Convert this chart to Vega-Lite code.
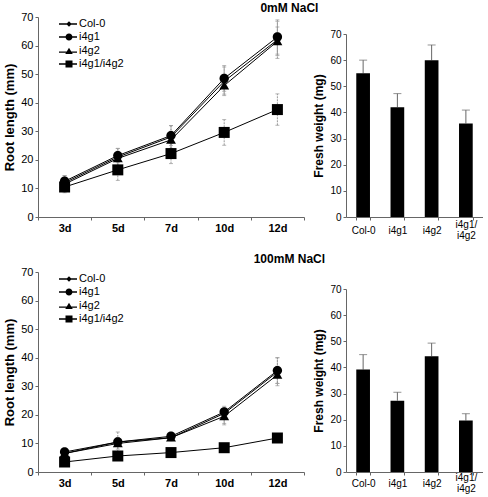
{
  "$schema": "https://vega.github.io/schema/vega-lite/v6.json",
  "padding": {"left": 3, "top": 2, "right": 0, "bottom": 0},
  "config": {
    "font": "Liberation Sans",
    "view": {"stroke": null},
    "axis": {"grid": false, "domainColor": "#666", "tickColor": "#666", "labelColor": "#000", "titleColor": "#000", "titleFontWeight": "bold", "tickSize": 3},
    "title": {"font": "Liberation Sans", "fontSize": 12, "fontWeight": "bold", "color": "#000"},
    "legend": {"labelColor": "black"}
  },
  "datasets": {
    "root0": [
      {"day": "3d", "series": "Col-0", "v": 12, "lo": 9.5, "hi": 14.5},
      {"day": "5d", "series": "Col-0", "v": 21, "lo": 18, "hi": 24},
      {"day": "7d", "series": "Col-0", "v": 28, "lo": 24, "hi": 32},
      {"day": "10d", "series": "Col-0", "v": 47.5, "lo": 42.5, "hi": 52.5},
      {"day": "12d", "series": "Col-0", "v": 62, "lo": 55.5, "hi": 68.5},
      {"day": "3d", "series": "i4g1", "v": 12.5, "lo": 10.5, "hi": 14.5},
      {"day": "5d", "series": "i4g1", "v": 21.5, "lo": 19, "hi": 24},
      {"day": "7d", "series": "i4g1", "v": 28.5, "lo": 25, "hi": 32},
      {"day": "10d", "series": "i4g1", "v": 48.5, "lo": 44, "hi": 53},
      {"day": "12d", "series": "i4g1", "v": 63, "lo": 57, "hi": 69},
      {"day": "3d", "series": "i4g2", "v": 11.5, "lo": 9.5, "hi": 13.5},
      {"day": "5d", "series": "i4g2", "v": 20.5, "lo": 18, "hi": 23},
      {"day": "7d", "series": "i4g2", "v": 27, "lo": 24, "hi": 30},
      {"day": "10d", "series": "i4g2", "v": 46, "lo": 43, "hi": 49},
      {"day": "12d", "series": "i4g2", "v": 61.5, "lo": 56.5, "hi": 66.5},
      {"day": "3d", "series": "i4g1/i4g2", "v": 10.5, "lo": 8.5, "hi": 12.5},
      {"day": "5d", "series": "i4g1/i4g2", "v": 16.5, "lo": 12.8, "hi": 20.2},
      {"day": "7d", "series": "i4g1/i4g2", "v": 22.2, "lo": 18.7, "hi": 25.7},
      {"day": "10d", "series": "i4g1/i4g2", "v": 29.6, "lo": 25.1, "hi": 34.1},
      {"day": "12d", "series": "i4g1/i4g2", "v": 37.6, "lo": 32.1, "hi": 43.1}
    ],
    "root100": [
      {"day": "3d", "series": "Col-0", "v": 6.5, "lo": 5.5, "hi": 7.5},
      {"day": "5d", "series": "Col-0", "v": 10.5, "lo": 7, "hi": 14},
      {"day": "7d", "series": "Col-0", "v": 12, "lo": 11, "hi": 13},
      {"day": "10d", "series": "Col-0", "v": 20.5, "lo": 17, "hi": 22},
      {"day": "12d", "series": "Col-0", "v": 35, "lo": 30.2, "hi": 40},
      {"day": "3d", "series": "i4g1", "v": 7, "lo": 6, "hi": 8},
      {"day": "5d", "series": "i4g1", "v": 10.5, "lo": 9, "hi": 12},
      {"day": "7d", "series": "i4g1", "v": 12.5, "lo": 11.5, "hi": 13.5},
      {"day": "10d", "series": "i4g1", "v": 21, "lo": 19, "hi": 23},
      {"day": "12d", "series": "i4g1", "v": 35.5, "lo": 31, "hi": 40},
      {"day": "3d", "series": "i4g2", "v": 6.5, "lo": 5.5, "hi": 7.5},
      {"day": "5d", "series": "i4g2", "v": 10, "lo": 8, "hi": 12},
      {"day": "7d", "series": "i4g2", "v": 12, "lo": 11, "hi": 13},
      {"day": "10d", "series": "i4g2", "v": 19.5, "lo": 16.5, "hi": 21.5},
      {"day": "12d", "series": "i4g2", "v": 34, "lo": 31, "hi": 37},
      {"day": "3d", "series": "i4g1/i4g2", "v": 3.5, "lo": 3, "hi": 4},
      {"day": "5d", "series": "i4g1/i4g2", "v": 5.6, "lo": 5, "hi": 6.2},
      {"day": "7d", "series": "i4g1/i4g2", "v": 6.8, "lo": 6.2, "hi": 7.4},
      {"day": "10d", "series": "i4g1/i4g2", "v": 8.5, "lo": 7.8, "hi": 9.2},
      {"day": "12d", "series": "i4g1/i4g2", "v": 11.9, "lo": 11, "hi": 12.8}
    ],
    "fw0": [
      {"g": "Col-0", "v": 55, "hi": 60},
      {"g": "i4g1", "v": 42, "hi": 47.2},
      {"g": "i4g2", "v": 60, "hi": 65.8},
      {"g": "i4g1/i4g2", "v": 35.8, "hi": 40.9}
    ],
    "fw100": [
      {"g": "Col-0", "v": 39.2, "hi": 44.9},
      {"g": "i4g1", "v": 27.3, "hi": 30.5},
      {"g": "i4g2", "v": 44.3, "hi": 49.3},
      {"g": "i4g1/i4g2", "v": 19.7, "hi": 22.3}
    ],
    "empty": []
  },
  "spacing": 12,
  "vconcat": [
    {
      "title": {"text": "0mM NaCl", "anchor": "middle", "dx": 46, "offset": -4},
      "spacing": 7,
      "hconcat": [
        {
          "width": 266, "height": 200,
          "data": {"name": "root0"},
          "encoding": {
            "x": {"field": "day", "type": "ordinal", "sort": ["3d", "5d", "7d", "10d", "12d"], "scale": {"type": "band", "paddingInner": 0, "paddingOuter": 0},
              "axis": {"title": null, "labelAngle": 0, "tickBand": "extent", "labelFontWeight": "bold", "labelFontSize": 11, "labelPadding": 2}},
            "y": {"type": "quantitative", "scale": {"domain": [0, 70]},
              "axis": {"title": "Root length (mm)", "values": [0, 10, 20, 30, 40, 50, 60, 70], "labelFontSize": 11, "titleFontSize": 13, "titlePadding": 4}}
          },
          "layer": [
            {"mark": {"type": "rule", "color": "#999", "strokeWidth": 1, "strokeDash": [2, 1]}, "encoding": {"y": {"field": "lo", "type": "quantitative"}, "y2": {"field": "hi"}}},
            {"mark": {"type": "tick", "color": "#999", "size": 4, "thickness": 1}, "encoding": {"y": {"field": "hi", "type": "quantitative"}}},
            {"mark": {"type": "tick", "color": "#999", "size": 4, "thickness": 1}, "encoding": {"y": {"field": "lo", "type": "quantitative"}}},
            {"mark": {"type": "line", "color": "black", "strokeWidth": 1}, "encoding": {"y": {"field": "v", "type": "quantitative"}, "detail": {"field": "series"}}},
            {"mark": {"type": "point", "filled": true, "color": "black", "opacity": 1, "size": 121},
              "encoding": {
                "y": {"field": "v", "type": "quantitative"},
                "shape": {"field": "series", "type": "nominal", "scale": {"domain": ["Col-0", "i4g1", "i4g2", "i4g1/i4g2"], "range": ["M0,-0.65L0.65,0L0,0.65L-0.65,0Z", "M-0.85,0A0.85,0.85,0,1,1,0.85,0A0.85,0.85,0,1,1,-0.85,0Z", "M0,-0.85L0.9,0.7L-0.9,0.7Z", "M-1,-1H1V1H-1Z"]}, "legend": null}
              }},
            {"transform": [{"filter": "datum.v < 0"}],
              "mark": {"type": "point", "filled": true, "color": "black", "opacity": 1, "size": 100},
              "encoding": {
                "y": {"field": "v", "type": "quantitative"},
                "shape": {"field": "series", "type": "nominal", "scale": {"domain": ["Col-0", "i4g1", "i4g2", "i4g1/i4g2"], "range": ["M-2,-0.13H1.6V0.13H-2ZM0,-0.55L0.55,0L0,0.55L-0.55,0Z", "M-2,-0.13H1.6V0.13H-2ZM-0.7,0A0.7,0.7,0,1,1,0.7,0A0.7,0.7,0,1,1,-0.7,0Z", "M-2,0.1H1.6V0.36H-2ZM0,-0.65L0.75,0.6L-0.75,0.6Z", "M-2,-0.13H1.6V0.13H-2ZM-0.7,-0.7H0.7V0.7H-0.7Z"]},
                  "legend": {"orient": "none", "legendX": 25, "legendY": 1, "title": null, "padding": 0, "labelFontSize": 11, "symbolSize": 100, "labelOffset": 4, "rowPadding": 0}}
              }}
          ],
          "resolve": {"scale": {"shape": "independent"}, "legend": {"shape": "independent"}}
        },
        {
          "spacing": 5,
          "vconcat": [
            {"width": 137, "height": 7, "data": {"name": "empty"}, "mark": "point"},
            {
              "width": 137, "height": 183,
              "data": {"name": "fw0"},
              "encoding": {
                "x": {"field": "g", "type": "nominal", "sort": ["Col-0", "i4g1", "i4g2", "i4g1/i4g2"], "scale": {"paddingInner": 0.6, "paddingOuter": 0.3},
                  "axis": {"title": null, "labelAngle": 0, "tickBand": "extent", "labelFontSize": 10, "labelPadding": {"condition": {"test": "datum.value == 'i4g1/i4g2'", "value": 4.5}, "value": 10}, "labelBaseline": "middle", "labelLineHeight": 11, "labelExpr": "datum.value == 'i4g1/i4g2' ? ['i4g1/', 'i4g2'] : datum.label"}},
                "y": {"type": "quantitative", "scale": {"domain": [0, 70]},
                  "axis": {"title": "Fresh weight (mg)", "values": [0, 10, 20, 30, 40, 50, 60, 70], "labelFontSize": 10, "titleFontSize": 12, "titlePadding": 4}}
              },
              "layer": [
                {"mark": {"type": "rule", "color": "#666", "strokeWidth": 1}, "encoding": {"y": {"field": "v", "type": "quantitative"}, "y2": {"field": "hi"}}},
                {"mark": {"type": "tick", "color": "#666", "size": 8, "thickness": 1}, "encoding": {"y": {"field": "hi", "type": "quantitative"}}},
                {"mark": {"type": "bar", "color": "black"}, "encoding": {"y": {"field": "v", "type": "quantitative"}}}
              ]
            }
          ]
        }
      ]
    },
    {
      "title": {"text": "100mM NaCl", "anchor": "middle", "dx": 46, "offset": 0},
      "spacing": 7,
      "hconcat": [
        {
          "width": 266, "height": 200,
          "data": {"name": "root100"},
          "encoding": {
            "x": {"field": "day", "type": "ordinal", "sort": ["3d", "5d", "7d", "10d", "12d"], "scale": {"type": "band", "paddingInner": 0, "paddingOuter": 0},
              "axis": {"title": null, "labelAngle": 0, "tickBand": "extent", "labelFontWeight": "bold", "labelFontSize": 11, "labelPadding": 2}},
            "y": {"type": "quantitative", "scale": {"domain": [0, 70]},
              "axis": {"title": "Root length (mm)", "values": [0, 10, 20, 30, 40, 50, 60, 70], "labelFontSize": 11, "titleFontSize": 13, "titlePadding": 4}}
          },
          "layer": [
            {"mark": {"type": "rule", "color": "#999", "strokeWidth": 1, "strokeDash": [2, 1]}, "encoding": {"y": {"field": "lo", "type": "quantitative"}, "y2": {"field": "hi"}}},
            {"mark": {"type": "tick", "color": "#999", "size": 4, "thickness": 1}, "encoding": {"y": {"field": "hi", "type": "quantitative"}}},
            {"mark": {"type": "tick", "color": "#999", "size": 4, "thickness": 1}, "encoding": {"y": {"field": "lo", "type": "quantitative"}}},
            {"mark": {"type": "line", "color": "black", "strokeWidth": 1}, "encoding": {"y": {"field": "v", "type": "quantitative"}, "detail": {"field": "series"}}},
            {"mark": {"type": "point", "filled": true, "color": "black", "opacity": 1, "size": 121},
              "encoding": {
                "y": {"field": "v", "type": "quantitative"},
                "shape": {"field": "series", "type": "nominal", "scale": {"domain": ["Col-0", "i4g1", "i4g2", "i4g1/i4g2"], "range": ["M0,-0.65L0.65,0L0,0.65L-0.65,0Z", "M-0.85,0A0.85,0.85,0,1,1,0.85,0A0.85,0.85,0,1,1,-0.85,0Z", "M0,-0.85L0.9,0.7L-0.9,0.7Z", "M-1,-1H1V1H-1Z"]}, "legend": null}
              }},
            {"transform": [{"filter": "datum.v < 0"}],
              "mark": {"type": "point", "filled": true, "color": "black", "opacity": 1, "size": 100},
              "encoding": {
                "y": {"field": "v", "type": "quantitative"},
                "shape": {"field": "series", "type": "nominal", "scale": {"domain": ["Col-0", "i4g1", "i4g2", "i4g1/i4g2"], "range": ["M-2,-0.13H1.6V0.13H-2ZM0,-0.55L0.55,0L0,0.55L-0.55,0Z", "M-2,-0.13H1.6V0.13H-2ZM-0.7,0A0.7,0.7,0,1,1,0.7,0A0.7,0.7,0,1,1,-0.7,0Z", "M-2,0.1H1.6V0.36H-2ZM0,-0.65L0.75,0.6L-0.75,0.6Z", "M-2,-0.13H1.6V0.13H-2ZM-0.7,-0.7H0.7V0.7H-0.7Z"]},
                  "legend": {"orient": "none", "legendX": 25, "legendY": 1, "title": null, "padding": 0, "labelFontSize": 11, "symbolSize": 100, "labelOffset": 4, "rowPadding": 0}}
              }}
          ],
          "resolve": {"scale": {"shape": "independent"}, "legend": {"shape": "independent"}}
        },
        {
          "spacing": 5,
          "vconcat": [
            {"width": 137, "height": 7, "data": {"name": "empty"}, "mark": "point"},
            {
              "width": 137, "height": 183,
              "data": {"name": "fw100"},
              "encoding": {
                "x": {"field": "g", "type": "nominal", "sort": ["Col-0", "i4g1", "i4g2", "i4g1/i4g2"], "scale": {"paddingInner": 0.6, "paddingOuter": 0.3},
                  "axis": {"title": null, "labelAngle": 0, "tickBand": "extent", "labelFontSize": 10, "labelPadding": {"condition": {"test": "datum.value == 'i4g1/i4g2'", "value": 2.5}, "value": 8}, "labelBaseline": "middle", "labelLineHeight": 11, "labelExpr": "datum.value == 'i4g1/i4g2' ? ['i4g1/', 'i4g2'] : datum.label"}},
                "y": {"type": "quantitative", "scale": {"domain": [0, 70]},
                  "axis": {"title": "Fresh weight (mg)", "values": [0, 10, 20, 30, 40, 50, 60, 70], "labelFontSize": 10, "titleFontSize": 12, "titlePadding": 4}}
              },
              "layer": [
                {"mark": {"type": "rule", "color": "#666", "strokeWidth": 1}, "encoding": {"y": {"field": "v", "type": "quantitative"}, "y2": {"field": "hi"}}},
                {"mark": {"type": "tick", "color": "#666", "size": 8, "thickness": 1}, "encoding": {"y": {"field": "hi", "type": "quantitative"}}},
                {"mark": {"type": "bar", "color": "black"}, "encoding": {"y": {"field": "v", "type": "quantitative"}}}
              ]
            }
          ]
        }
      ]
    }
  ]
}
